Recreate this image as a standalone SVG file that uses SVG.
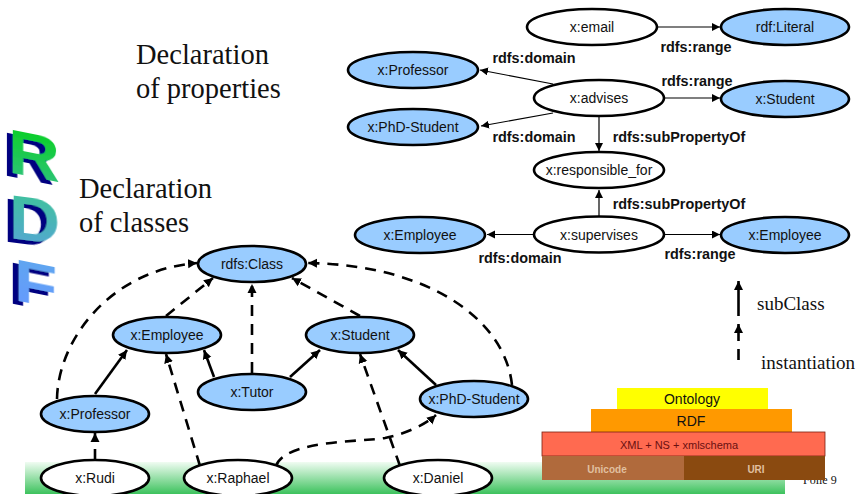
<svg xmlns="http://www.w3.org/2000/svg" width="859" height="494" viewBox="0 0 859 494">
<style>
text{font-family:"Liberation Sans",Arial,sans-serif;fill:#111}
.n{font-size:14px;text-anchor:middle}
.b{font-size:14.400px;font-weight:bold;text-anchor:middle}
.h{font-family:"Liberation Serif","Times New Roman",serif;font-size:28.5px}
.s{font-family:"Liberation Serif","Times New Roman",serif;font-size:19px}
.c{fill:#99ccff;stroke:#000;stroke-width:2.6}
.p{fill:#fff;stroke:#000;stroke-width:2.6}
.t{fill:none;stroke:#000;stroke-width:2.6}
.d{stroke-dasharray:11 8}
.f{fill:none;stroke:#000;stroke-width:1.2}
.l{font-weight:bold;font-size:60px;fill:url(#lg);filter:url(#ex)}
</style>
<defs>
<marker id="a" markerUnits="userSpaceOnUse" markerWidth="10" markerHeight="10" refX="9" refY="5" orient="auto"><path d="M0 0.5L9 5L0 9.5Z"/></marker>
<marker id="m" markerUnits="userSpaceOnUse" markerWidth="10" markerHeight="10" refX="8" refY="4" orient="auto"><path d="M0 0L8 4L0 8Z"/></marker>
<linearGradient id="g" x1="0" y1="0" x2="0" y2="1"><stop offset="0" stop-color="#f0fcf2"/><stop offset="1" stop-color="#3dc25d"/></linearGradient>
<linearGradient id="lg" gradientUnits="userSpaceOnUse" x1="0" y1="-42" x2="0" y2="14"><stop offset="0" stop-color="#0ccf2a"/><stop offset="1" stop-color="#35c08a"/></linearGradient>
<linearGradient id="lg2" gradientUnits="userSpaceOnUse" x1="0" y1="-42" x2="0" y2="8"><stop offset="0" stop-color="#40c0a0"/><stop offset="1" stop-color="#55a5d5"/></linearGradient>
<linearGradient id="lg3" gradientUnits="userSpaceOnUse" x1="0" y1="-42" x2="0" y2="8"><stop offset="0" stop-color="#60a5f0"/><stop offset="1" stop-color="#6699ff"/></linearGradient>
<filter id="ex" x="-30%" y="-30%" width="160%" height="160%"><feOffset in="SourceAlpha" dx="-5" dy="3.500" result="o"/><feFlood flood-color="#000080"/><feComposite in2="o" operator="in" result="s"/><feMerge><feMergeNode in="s"/><feMergeNode in="SourceGraphic"/></feMerge></filter>
</defs>
<rect id="band" x="25" y="462" width="760" height="32" fill="url(#g)"/>
<text class="s" x="803" y="484" style="font-size:12px">Folie 9</text>
<g id="stack">
<rect x="617" y="388" width="151" height="22" fill="#ffff00"/>
<rect x="591" y="409" width="201" height="23" fill="#ff9900"/>
<rect x="542" y="432" width="283" height="24" fill="#ff6a50" stroke="#7a2010" stroke-width="0.8"/>
<rect x="542" y="456" width="142" height="24" fill="#b06a3c"/>
<rect x="684" y="456" width="141" height="24" fill="#8a4a10"/>
<text class="n" x="692" y="404">Ontology</text>
<text class="n" x="691" y="426">RDF</text>
<text x="679" y="449" text-anchor="middle" style="font-size:11px;fill:#6a1010">XML + NS + xmlschema</text>
<text x="607" y="473" text-anchor="middle" style="font-size:10px;fill:#e0c0a0;font-weight:bold">Unicode</text>
<text x="756" y="473" text-anchor="middle" style="font-size:10px;fill:#e0c0a0;font-weight:bold">URI</text>
</g>
<g id="logo">
<text class="l" transform="matrix(1.2 0.24 0 1.05 8 172)" x="0" y="0">R</text>
<text class="l" transform="matrix(1.18 0.15 0 1.06 9 238)" x="0" y="0" style="fill:url(#lg2)">D</text>
<text class="l" transform="matrix(1.18 0.236 0 1 14 300)" x="0" y="0" style="fill:url(#lg3)">F</text>
</g>
<text class="h" x="136" y="64">Declaration</text>
<text class="h" x="136" y="98">of properties</text>
<text class="h" x="79" y="198">Declaration</text>
<text class="h" x="79" y="232">of classes</text>
<text class="s" x="757" y="310">subClass</text>
<text class="s" x="761" y="369">instantiation</text>
<g id="connectors">
<g marker-end="url(#m)">
<path class="f" d="M657 27H720"/>
<path class="f" d="M553 84L480 70"/>
<path class="f" d="M553 113L481 126"/>
<path class="f" d="M664 98H720"/>
<path class="f" d="M599 117V151"/>
<path class="f" d="M599 216V190"/>
<path class="f" d="M534 234.500H487"/>
<path class="f" d="M664 234.500H720"/>
</g>
<g marker-end="url(#a)">
<path class="t" d="M95 394L127 350"/>
<path class="t" d="M214 377L204 350"/>
<path class="t" d="M290 377L320 350"/>
<path class="t" d="M436 385L398 350"/>
<path class="t d" d="M166 316L213 278"/>
<path class="t d" d="M252 373V284"/>
<path class="t d" d="M360 316L292 278"/>
<path class="t d" d="M57 399C58 340 110 270 197 263"/>
<path class="t d" d="M512 385C505 320 430 265 308 263"/>
<path class="t d" d="M200 466L166 354"/>
<path class="t d" d="M400 466L360 354"/>
<path class="t d" d="M95 460V433"/>
<path class="t d" d="M276 466C285 440 360 442 385 438C405 434 425 425 436 415"/>
<path class="t" d="M738.500 316V281"/>
<path class="t" style="stroke-dasharray:11 8 20" d="M738.500 360V324"/>
</g>
</g>
<g id="n-email"><ellipse class="p" cx="592" cy="27" rx="65" ry="18"/><text class="n" x="592" y="32">x:email</text></g>
<g id="n-literal"><ellipse class="c" cx="785" cy="27" rx="64" ry="18"/><text class="n" x="785" y="32">rdf:Literal</text></g>
<g id="n-professor-top"><ellipse class="c" cx="413" cy="70" rx="65" ry="18"/><text class="n" x="413" y="75">x:Professor</text></g>
<g id="n-advises"><ellipse class="p" cx="599" cy="98" rx="65" ry="18"/><text class="n" x="599" y="103">x:advises</text></g>
<g id="n-student-top"><ellipse class="c" cx="785" cy="99" rx="64" ry="18"/><text class="n" x="785" y="104">x:Student</text></g>
<g id="n-phd-top"><ellipse class="c" cx="413" cy="127" rx="65" ry="18"/><text class="n" x="413" y="132">x:PhD-Student</text></g>
<g id="n-responsible"><ellipse class="p" cx="599" cy="170" rx="65" ry="18"/><text class="n" x="599" y="175">x:responsible_for</text></g>
<g id="n-supervises"><ellipse class="p" cx="599" cy="234.500" rx="65" ry="18"/><text class="n" x="599" y="240">x:supervises</text></g>
<g id="n-employee-l"><ellipse class="c" cx="420" cy="235" rx="65" ry="18"/><text class="n" x="420" y="240">x:Employee</text></g>
<g id="n-employee-r"><ellipse class="c" cx="785" cy="235" rx="64" ry="18"/><text class="n" x="785" y="240">x:Employee</text></g>
<g id="labels">
<text class="b" x="696" y="52">rdfs:range</text>
<text class="b" x="534" y="63">rdfs:domain</text>
<text class="b" x="697" y="86">rdfs:range</text>
<text class="b" x="534" y="142">rdfs:domain</text>
<text class="b" x="679" y="142">rdfs:subPropertyOf</text>
<text class="b" x="679" y="209">rdfs:subPropertyOf</text>
<text class="b" x="520" y="263">rdfs:domain</text>
<text class="b" x="700" y="259">rdfs:range</text>
</g>
<g id="n-class"><ellipse class="c" cx="252" cy="264" rx="54" ry="18"/><text class="n" x="252" y="269">rdfs:Class</text></g>
<g id="n-employee"><ellipse class="c" cx="167" cy="335" rx="54" ry="18"/><text class="n" x="167" y="340">x:Employee</text></g>
<g id="n-student"><ellipse class="c" cx="360" cy="335" rx="54" ry="18"/><text class="n" x="360" y="340">x:Student</text></g>
<g id="n-tutor"><ellipse class="c" cx="252" cy="392" rx="54" ry="18"/><text class="n" x="252" y="397">x:Tutor</text></g>
<g id="n-phd"><ellipse class="c" cx="474" cy="399" rx="54" ry="18"/><text class="n" x="474" y="404">x:PhD-Student</text></g>
<g id="n-professor"><ellipse class="c" cx="95" cy="414" rx="54" ry="18"/><text class="n" x="95" y="419">x:Professor</text></g>
<g id="n-rudi"><ellipse class="p" cx="95" cy="478" rx="54" ry="18"/><text class="n" x="95" y="483">x:Rudi</text></g>
<g id="n-raphael"><ellipse class="p" cx="238" cy="478" rx="54" ry="18"/><text class="n" x="238" y="483">x:Raphael</text></g>
<g id="n-daniel"><ellipse class="p" cx="438" cy="478" rx="54" ry="18"/><text class="n" x="438" y="483">x:Daniel</text></g>
</svg>
